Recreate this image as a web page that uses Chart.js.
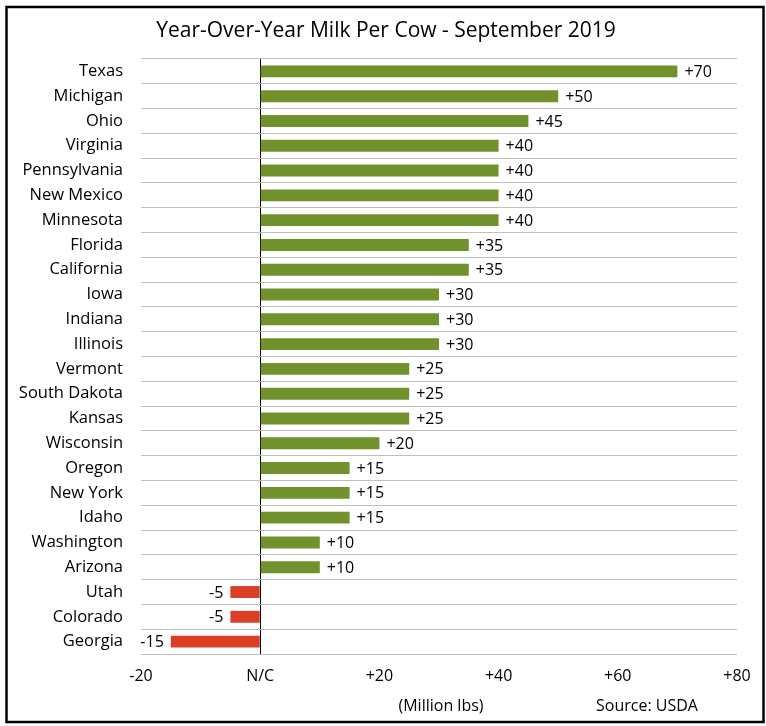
<!DOCTYPE html>
<html>
<head>
<meta charset="utf-8">
<script src="https://cdn.jsdelivr.net/npm/chart.js@4"></script>
<style>
  html, body { margin: 0; padding: 0; background: #fff; }
  #wrap { position: relative; width: 766px; height: 726px; }
</style>
</head>
<body>
<div id="wrap"><canvas id="milk"></canvas></div>
<script>
const states = ["Texas", "Michigan", "Ohio", "Virginia", "Pennsylvania", "New Mexico", "Minnesota",
  "Florida", "California", "Iowa", "Indiana", "Illinois", "Vermont", "South Dakota", "Kansas",
  "Wisconsin", "Oregon", "New York", "Idaho", "Washington", "Arizona", "Utah", "Colorado", "Georgia"];
const change = [70, 50, 45, 40, 40, 40, 40, 35, 35, 30, 30, 30, 25, 25, 25, 20, 15, 15, 15, 10, 10, -5, -5, -15];
const xTicks = [-20, 0, 20, 40, 60, 80];

const GREEN = "#70912B";
const RED = "#DC3D25";
const FONT = "'Open Sans'";

const frameAndText = {
  id: "frameAndText",
  beforeDraw(chart) {
    const c = chart.ctx;
    c.save();
    c.fillStyle = "#fff";
    c.fillRect(0, 0, chart.width, chart.height);
    c.restore();
  },
  afterDraw(chart) {
    const c = chart.ctx;
    c.save();
    c.strokeStyle = "#000";
    c.lineWidth = 2.5;
    c.strokeRect(6.5, 7, 757, 715);

    c.fillStyle = "#000";
    c.textAlign = "center";
    c.textBaseline = "middle";
    c.font = `21px ${FONT}`;
    c.fillText("Year-Over-Year Milk Per Cow - September 2019", 386, 31);
    c.font = `16px ${FONT}`;
    c.fillText("(Million lbs)", 441, 706);
    c.fillText("Source: USDA", 647, 706);

    // value labels at bar ends
    const meta = chart.getDatasetMeta(0);
    meta.data.forEach((bar, i) => {
      const v = change[i];
      if (v >= 0) {
        c.textAlign = "left";
        c.fillText("+" + v, bar.x + 7, bar.y + 1);
      } else {
        c.textAlign = "right";
        c.fillText(String(v), bar.x - 7, bar.y + 1);
      }
    });
    c.restore();
  }
};

new Chart(document.getElementById("milk"), {
  type: "bar",
  data: {
    labels: states,
    datasets: [{
      data: change,
      backgroundColor: change.map(v => v < 0 ? RED : GREEN),
      barPercentage: 0.48,
      categoryPercentage: 1
    }]
  },
  options: {
    indexAxis: "y",
    responsive: true,
    maintainAspectRatio: false,
    animation: false,
    layout: { padding: { top: 59, left: 0, right: 29, bottom: 0 } },
    plugins: {
      legend: { display: false },
      tooltip: { enabled: false },
      title: { display: false }
    },
    scales: {
      x: {
        min: -20,
        max: 80,
        afterBuildTicks(scale) { scale.ticks = xTicks.map(v => ({ value: v })); },
        afterFit(scale) { scale.height = 72; },
        border: { display: false },
        grid: {
          drawTicks: false,
          color: ctx => ctx.tick && ctx.tick.value === 0 ? "#000" : "rgba(0,0,0,0)",
          lineWidth: 1
        },
        ticks: {
          padding: 13,
          color: "#000",
          font: { family: FONT, size: 16 },
          callback: v => v === 0 ? "N/C" : (v > 0 ? "+" + v : String(v))
        }
      },
      y: {
        afterFit(scale) { scale.width = 141; },
        border: { display: false },
        grid: {
          offset: true,
          drawTicks: false,
          color: "#BFBFBF",
          lineWidth: 1
        },
        ticks: {
          padding: 18,
          color: "#000",
          font: { family: FONT, size: 16.5 }
        }
      }
    }
  },
  plugins: [frameAndText]
});
</script>
</body>
</html>
